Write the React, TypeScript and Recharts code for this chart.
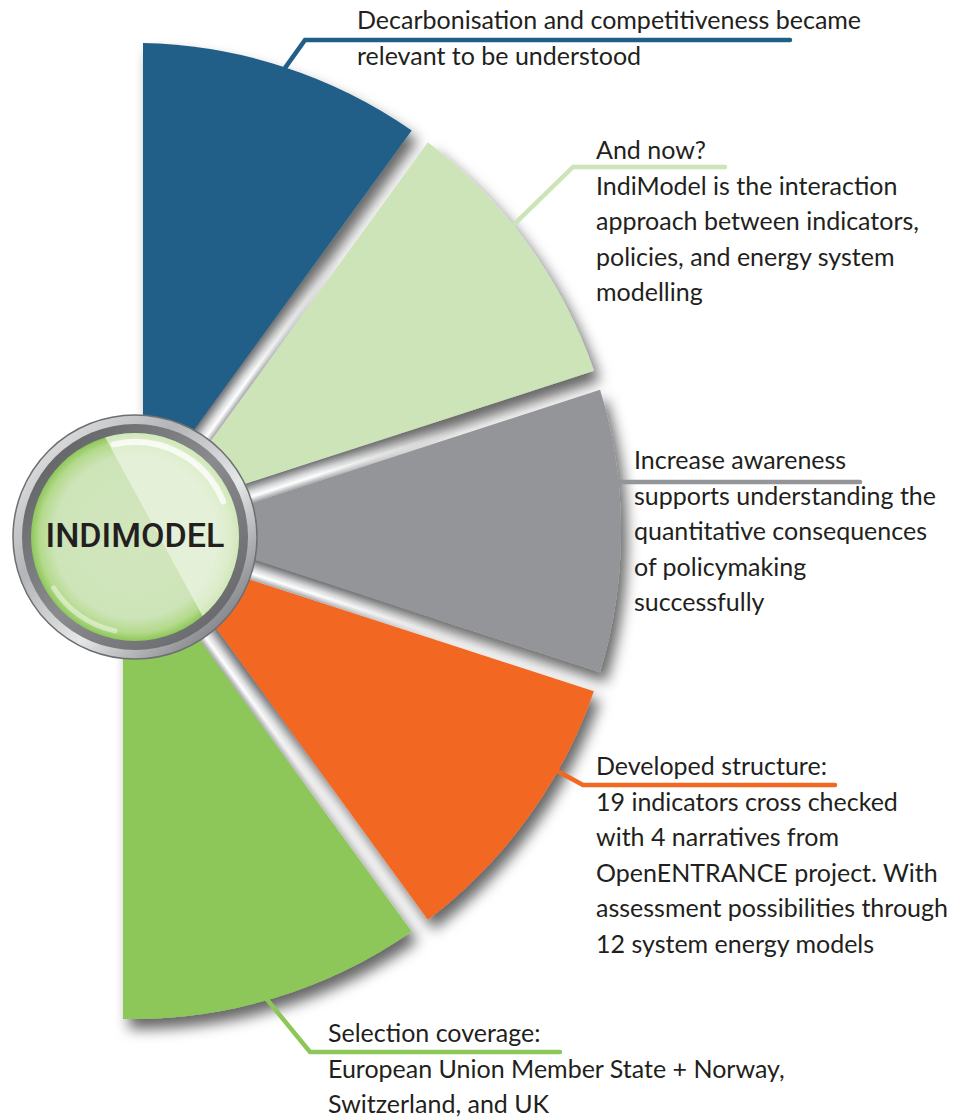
import { PieChart, Pie, Cell } from 'recharts';

// five equal parts of the fan, top to bottom
const segments = ['Decarbonisation', 'And now?', 'Increase awareness', 'Developed structure', 'Selection coverage'];
const shares = [1, 1, 1, 1, 1];
const colors = ['#215f88', '#cde4b8', '#939598', '#f26722', '#8dc75a'];

const labelLines = [
  ['Decarbonisation and competitiveness became', 'relevant to be understood'],
  ['And now?', 'IndiModel is the interaction', 'approach between indicators,', 'policies, and energy system', 'modelling'],
  ['Increase awareness', 'supports understanding the', 'quantitative consequences', 'of policymaking', 'successfully'],
  ['Developed structure:', '19 indicators cross checked', 'with 4 narratives from', 'OpenENTRANCE project. With', 'assessment possibilities through', '12 system energy models'],
  ['Selection coverage:', 'European Union Member State + Norway,', 'Switzerland, and UK'],
];

const centerTitle = 'INDIMODEL';

const data = segments.map((name, i) => ({ name, value: shares[i] }));

// layout
const CX = 133;
const CY = 531;
const R = 488;
const GAP = 10;
const LINE_H = 35.5;

const labelLayout = [
  { angle: 71.8, kneeX: 305, lineY: 40, endX: 790, textX: 357, textY: 29 },
  { angle: 38.8, kneeX: 573, lineY: 167, endX: 725, textX: 596, textY: 159 },
  { angle: 5.8, kneeX: null, lineY: 482, endX: 860, textX: 634, textY: 469 },
  { angle: -29.5, kneeX: 583, lineY: 785, endX: 835, textX: 596, textY: 775 },
  { angle: -74, kneeX: 310, lineY: 1052, endX: 560, textX: 328, textY: 1042 },
];

const rad = (d: number) => (d * Math.PI) / 180;

// sector with parallel (constant width) gaps instead of angular padding
const renderSector = (props: any) => {
  const { cx, cy, outerRadius, startAngle, endAngle, fill } = props;
  const s = Math.max(startAngle, endAngle);
  const e = Math.min(startAngle, endAngle);
  const gS = GAP;
  const gE = e <= -89.9 ? -GAP : GAP;
  const uS = [Math.cos(rad(s)), -Math.sin(rad(s))];
  const uE = [Math.cos(rad(e)), -Math.sin(rad(e))];
  const nS = [Math.sin(rad(s)), Math.cos(rad(s))];
  const nE = [-Math.sin(rad(e)), -Math.cos(rad(e))];
  const a = [gS * nS[0], gS * nS[1]];
  const b = [gE * nE[0], gE * nE[1]];
  const det = -uS[0] * uE[1] + uE[0] * uS[1];
  const rx = b[0] - a[0];
  const ry = b[1] - a[1];
  const t = (rx * -uE[1] - -uE[0] * ry) / det;
  const ax = cx + a[0] + t * uS[0];
  const ay = cy + a[1] + t * uS[1];
  const LS = Math.sqrt(outerRadius * outerRadius - gS * gS);
  const LE = Math.sqrt(outerRadius * outerRadius - gE * gE);
  const sx = cx + a[0] + LS * uS[0];
  const sy = cy + a[1] + LS * uS[1];
  const ex = cx + b[0] + LE * uE[0];
  const ey = cy + b[1] + LE * uE[1];
  return (
    <path
      d={`M${ax},${ay} L${sx},${sy} A${outerRadius},${outerRadius} 0 0 1 ${ex},${ey} Z`}
      fill={fill}
      filter="url(#sectorShadow)"
    />
  );
};

const renderLabel = (props: any) => {
  const { cx, cy, outerRadius, index } = props;
  const lay = labelLayout[index];
  const px = cx + outerRadius * Math.cos(rad(lay.angle));
  const py = cy - outerRadius * Math.sin(rad(lay.angle));
  const kx = lay.kneeX ?? px;
  return (
    <g key={`lbl-${index}`}>
      <polyline
        points={`${px},${py} ${kx},${lay.lineY} ${lay.endX},${lay.lineY}`}
        fill="none"
        stroke={colors[index]}
        strokeWidth={4.5}
        strokeLinecap="round"
        strokeLinejoin="miter"
      />
      <text x={lay.textX} y={lay.textY} fontFamily="Lato, sans-serif" fontSize={25} fill="#231f20">
        {labelLines[index].map((t, j) => (
          <tspan key={j} x={lay.textX} dy={j === 0 ? 0 : LINE_H}>
            {t}
          </tspan>
        ))}
      </text>
    </g>
  );
};

// boundaries between parts, for the metal rods
const total = shares.reduce((a, b) => a + b, 0);
const boundaries: number[] = [];
let acc = 0;
shares.forEach((v, i) => {
  acc += v;
  if (i < shares.length - 1) boundaries.push(90 - (180 * acc) / total);
});

const CCX = 135;
const CCY = 537;

const Hub = () => (
  <svg width={958} height={1118} style={{ position: 'absolute', left: 0, top: 0, pointerEvents: 'none' }}>
    <defs>
      <linearGradient id="rod" x1="0" y1="0" x2="0" y2="1">
        <stop offset="0" stopColor="#707174" />
        <stop offset="0.45" stopColor="#d9dadb" />
        <stop offset="0.7" stopColor="#ffffff" />
        <stop offset="1" stopColor="#a4a5a8" />
      </linearGradient>
      <linearGradient id="rodFade" gradientUnits="userSpaceOnUse" x1="190" y1="0" x2="340" y2="0">
        <stop offset="0" stopColor="#fff" />
        <stop offset="1" stopColor="#000" />
      </linearGradient>
      <mask id="rodMask" maskUnits="userSpaceOnUse" maskContentUnits="userSpaceOnUse" x={80} y={-20} width={280} height={40}>
        <rect x={80} y={-20} width={280} height={40} fill="url(#rodFade)" />
      </mask>
      <linearGradient id="ringOuter" x1="0" y1="0" x2="1" y2="1">
        <stop offset="0" stopColor="#f2f2f2" />
        <stop offset="0.35" stopColor="#b4b5b8" />
        <stop offset="0.6" stopColor="#e6e7e8" />
        <stop offset="0.85" stopColor="#8a8b8e" />
        <stop offset="1" stopColor="#d6d7d8" />
      </linearGradient>
      <linearGradient id="ringInner" x1="0" y1="0" x2="1" y2="1">
        <stop offset="0" stopColor="#58595b" />
        <stop offset="0.5" stopColor="#8a8b8e" />
        <stop offset="1" stopColor="#5e5f62" />
      </linearGradient>
      <radialGradient id="lens" cx="0.5" cy="0.5" r="0.5">
        <stop offset="0" stopColor="#d3e6bf" />
        <stop offset="0.78" stopColor="#cde4b8" />
        <stop offset="0.92" stopColor="#b4da8b" />
        <stop offset="1" stopColor="#8dc75a" />
      </radialGradient>
      <clipPath id="lensClip">
        <circle cx={CCX} cy={CCY} r={104} />
      </clipPath>
    </defs>
    {boundaries.map((b) => (
      <g key={b} transform={`translate(${CX},${CY}) rotate(${-b})`}>
        <rect x={95} y={-GAP} width={250} height={GAP * 2} fill="url(#rod)" mask="url(#rodMask)" />
      </g>
    ))}
    <circle cx={CCX} cy={CCY} r={122} fill="url(#ringOuter)" stroke="#6d6e71" strokeWidth={1.5} />
    <circle cx={CCX} cy={CCY} r={113} fill="url(#ringInner)" />
    <circle cx={CCX} cy={CCY} r={104} fill="url(#lens)" />
    <g clipPath="url(#lensClip)">
      <polygon points="95.7,420 270,420 270,660 226.5,660" fill="#eef5e6" opacity={0.7} />
    </g>
    <path
      d={`M${CCX + 95 * Math.cos(rad(103))},${CCY - 95 * Math.sin(rad(103))} A95,95 0 0 1 ${CCX + 95 * Math.cos(rad(22))},${CCY - 95 * Math.sin(rad(22))}`}
      fill="none"
      stroke="#ffffff"
      strokeOpacity={0.75}
      strokeWidth={6}
      strokeLinecap="round"
    />
    <path
      d={`M${CCX + 96 * Math.cos(rad(212))},${CCY - 96 * Math.sin(rad(212))} A96,96 0 0 0 ${CCX + 96 * Math.cos(rad(258))},${CCY - 96 * Math.sin(rad(258))}`}
      fill="none"
      stroke="#ffffff"
      strokeOpacity={0.45}
      strokeWidth={5}
      strokeLinecap="round"
    />
    <text
      x={CCX}
      y={547}
      textAnchor="middle"
      fontFamily="Roboto, sans-serif"
      fontWeight={500}
      fontSize={33}
      textLength={179}
      lengthAdjust="spacingAndGlyphs"
      fill="#231f20"
    >
      {centerTitle}
    </text>
  </svg>
);

export default function App() {
  return (
    <div style={{ position: 'absolute', left: 0, top: 0, width: 958, height: 1118, background: '#fff', overflow: 'hidden' }}>
      <svg width={0} height={0} style={{ position: 'absolute' }}>
        <defs>
          <filter id="sectorShadow" x="-20%" y="-20%" width="140%" height="140%">
            <feDropShadow dx={6} dy={10} stdDeviation={7} floodColor="#000" floodOpacity={0.6} />
          </filter>
        </defs>
      </svg>
      <div style={{ position: 'absolute', left: 0, top: 0 }}>
        <PieChart width={958} height={1118} margin={{ top: 0, right: 0, bottom: 0, left: 0 }}>
          <Pie
            data={data}
            dataKey="value"
            nameKey="name"
            cx={CX}
            cy={CY}
            innerRadius={0}
            outerRadius={R}
            startAngle={90}
            endAngle={-90}
            paddingAngle={0}
            stroke="none"
            shape={renderSector}
            activeShape={renderSector}
            label={renderLabel}
            labelLine={false}
            isAnimationActive={false}
          >
            {data.map((d, i) => (
              <Cell key={d.name} fill={colors[i]} />
            ))}
          </Pie>
        </PieChart>
      </div>
      <Hub />
    </div>
  );
}
